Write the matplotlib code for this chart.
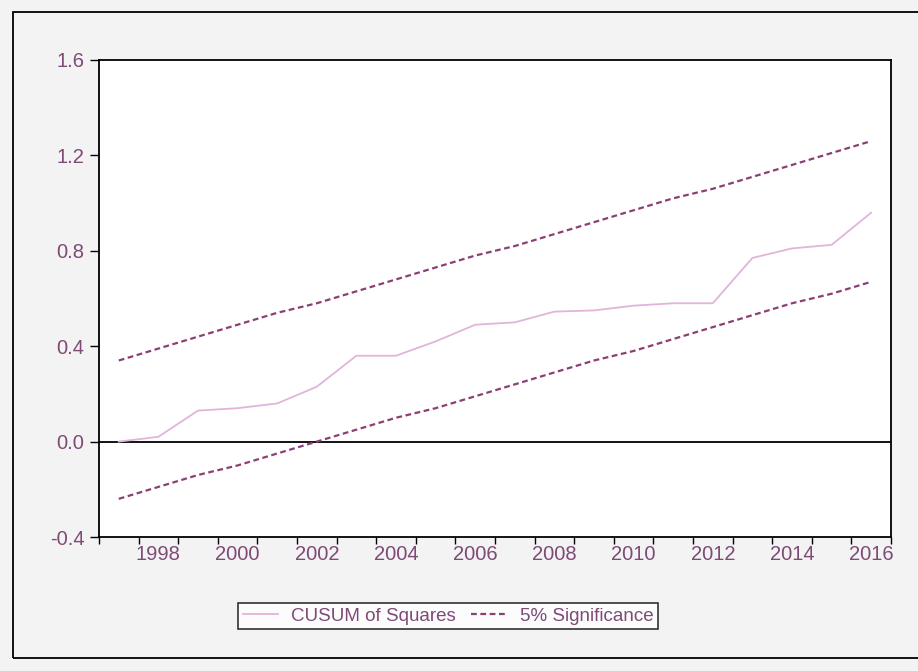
import numpy as np
import matplotlib
matplotlib.use("Agg")
import matplotlib.pyplot as plt
from matplotlib.patches import Rectangle

# CUSUM of squares test, annual observations
years = list(range(1997, 2017))
cusum_sq = [0.00, 0.02, 0.13, 0.14, 0.16, 0.23, 0.36, 0.36, 0.42, 0.49,
            0.50, 0.545, 0.55, 0.57, 0.58, 0.58, 0.77, 0.81, 0.825, 0.96]
upper_5pct = [0.34, 0.39, 0.44, 0.49, 0.54, 0.58, 0.63, 0.68, 0.73, 0.78,
              0.82, 0.87, 0.92, 0.97, 1.02, 1.06, 1.11, 1.16, 1.21, 1.26]
lower_5pct = [-0.24, -0.19, -0.14, -0.10, -0.05, 0.00, 0.05, 0.10, 0.14, 0.19,
              0.24, 0.29, 0.34, 0.38, 0.43, 0.48, 0.53, 0.58, 0.62, 0.67]
y_ticks = [-0.4, 0.0, 0.4, 0.8, 1.2, 1.6]
x_labels = list(range(1998, 2017, 2))

label_color = "#7e4a76"
band_color = "#8c3f74"
cusum_color = "#e2b4da"

plt.rcParams["font.family"] = ["Liberation Sans", "DejaVu Sans"]

fig = plt.figure(figsize=(9.18, 6.71), dpi=100, facecolor="#f3f3f3")
ax = fig.add_axes([0.1078, 0.1997, 0.8628, 0.7109])
ax.set_facecolor("white")

ax.plot(years, cusum_sq, color=cusum_color, lw=1.3, label="CUSUM of Squares")
ax.plot(years, upper_5pct, color=band_color, lw=1.6, ls=(0, (2.6, 1.6)),
        label="5% Significance")
ax.plot(years, lower_5pct, color=band_color, lw=1.6, ls=(0, (2.6, 1.6)))
ax.axhline(0.0, color="black", lw=1.3, zorder=1)

ax.set_xlim(1996.5, 2016.5)
ax.set_ylim(-0.4, 1.6)

# ticks sit between observations, labels sit on the years
ax.set_xticks(np.arange(1996.5, 2017.0, 1.0))
ax.set_xticklabels([])
ax.set_xticks(x_labels, minor=True)
ax.set_xticklabels([str(y) for y in x_labels], minor=True)
ax.tick_params(axis="x", which="major", direction="out", length=5, width=1.0,
               color="black")
ax.tick_params(axis="x", which="minor", length=0, pad=6, labelsize=14.5,
               labelcolor=label_color)

ax.set_yticks(y_ticks)
ax.set_yticklabels([f"{v:.1f}" for v in y_ticks])
ax.tick_params(axis="y", direction="out", length=6.5, width=1.0, pad=4,
               labelsize=14.5, labelcolor=label_color, color="black")

for side in ["left", "right", "top", "bottom"]:
    ax.spines[side].set_color("black")
    ax.spines[side].set_linewidth(1.3)

leg = fig.legend(loc="center", bbox_to_anchor=(0.488, 0.082), ncol=2,
                 frameon=True, fancybox=False, fontsize=13.5,
                 handlelength=1.9, handletextpad=0.7, columnspacing=0.8,
                 borderpad=0.25, borderaxespad=0)
leg.get_frame().set_edgecolor("black")
leg.get_frame().set_linewidth(1.2)
leg.get_frame().set_facecolor("white")
for txt in leg.get_texts():
    txt.set_color(label_color)

# outer frame around the whole graph
fig.patches.append(Rectangle((13 / 918, 1 - 658 / 671), 1.0, (658 - 12) / 671,
                             transform=fig.transFigure, fill=False,
                             edgecolor="black", lw=1.3))

fig.savefig("out.png", dpi=100, facecolor=fig.get_facecolor())
